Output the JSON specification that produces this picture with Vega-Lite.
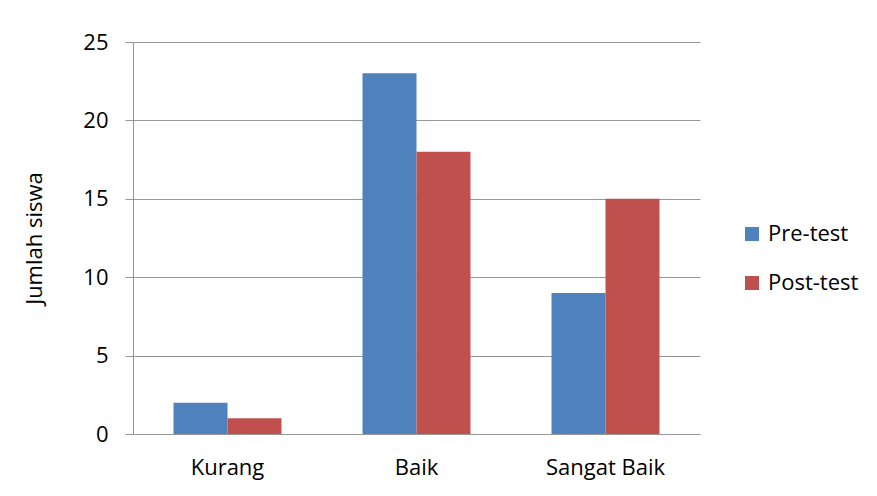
{
  "$schema": "https://vega.github.io/schema/vega-lite/v6.json",
  "autosize": "none",
  "width": 567,
  "height": 392,
  "padding": {"left": 133, "top": 42, "right": 177, "bottom": 62},
  "background": "white",
  "data": {"values": [
    {"kategori": "Kurang", "tes": "Pre-test", "jumlah": 2},
    {"kategori": "Kurang", "tes": "Post-test", "jumlah": 1},
    {"kategori": "Baik", "tes": "Pre-test", "jumlah": 23},
    {"kategori": "Baik", "tes": "Post-test", "jumlah": 18},
    {"kategori": "Sangat Baik", "tes": "Pre-test", "jumlah": 9},
    {"kategori": "Sangat Baik", "tes": "Post-test", "jumlah": 15}
  ]},
  "mark": {"type": "bar"},
  "encoding": {
    "x": {
      "field": "kategori", "type": "nominal",
      "sort": ["Kurang", "Baik", "Sangat Baik"],
      "scale": {"paddingInner": 0.4286, "paddingOuter": 0.2143},
      "axis": {"title": null, "grid": false, "labelAngle": 0, "ticks": false, "domain": true, "domainColor": "#969696", "labelPadding": 23, "labelFontSize": 22, "labelColor": "#000", "labelFont": "Open Sans"}
    },
    "xOffset": {"field": "tes", "type": "nominal", "sort": ["Pre-test", "Post-test"], "scale": {"paddingInner": 0, "paddingOuter": 0}},
    "y": {
      "field": "jumlah", "type": "quantitative",
      "scale": {"domain": [0, 25]},
      "axis": {"title": "Jumlah siswa", "grid": true, "values": [0, 5, 10, 15, 20, 25], "tickSize": 8, "tickColor": "#969696", "domainColor": "#969696", "gridColor": "#969696", "labelFontSize": 22, "labelColor": "#000", "labelPadding": 17, "labelFont": "Open Sans", "titleFont": "Open Sans", "titleFontSize": 22, "titleFontWeight": "normal", "titleColor": "#000", "titlePadding": 36}
    },
    "color": {
      "field": "tes", "type": "nominal", "sort": ["Pre-test", "Post-test"],
      "scale": {"domain": ["Pre-test", "Post-test"], "range": ["#4F81BD", "#C0504D"]},
      "legend": {"title": null, "orient": "none", "legendX": 608, "legendY": 181, "symbolType": "square", "symbolSize": 196, "symbolStrokeWidth": 0, "labelFontSize": 22, "labelFont": "Open Sans", "labelColor": "#000", "rowPadding": 27, "labelOffset": 5}
    }
  },
  "config": {"view": {"stroke": null}}
}
